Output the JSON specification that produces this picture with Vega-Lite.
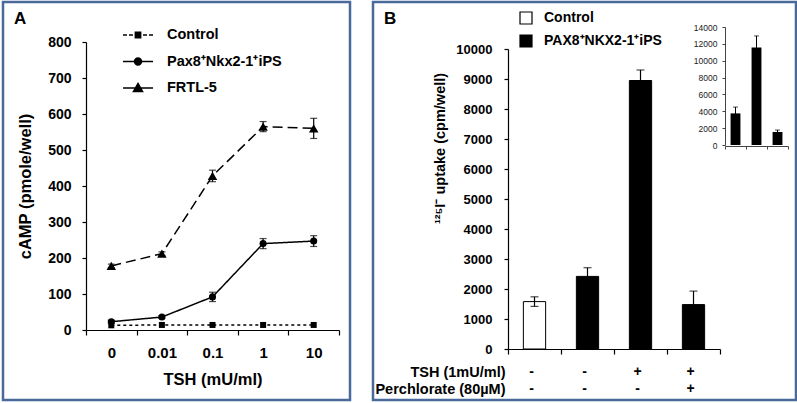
{
  "$schema": "https://vega.github.io/schema/vega-lite/v6.json",
  "padding": {"left": 1, "top": 0, "right": 0, "bottom": 0},
  "background": "white",
  "spacing": 19,
  "config": {
    "font": "Liberation Sans",
    "view": {"stroke": "#4a6a9c", "strokeWidth": 2.5},
    "axis": {"grid": false, "domainColor": "black", "tickColor": "black", "labelColor": "black", "titleColor": "black", "labelFont": "Liberation Sans", "titleFont": "Liberation Sans", "domainWidth": 1.2, "tickWidth": 1.2},
    "title": {"font": "Liberation Sans", "color": "black"}
  },
  "resolve": {"scale": {"shape": "independent", "fill": "independent"}, "legend": {"shape": "independent", "fill": "independent"}},
  "hconcat": [
    {
      "width": 347,
      "height": 398,
      "title": {"text": "A", "anchor": "start", "frame": "group", "offset": -39, "dx": 11, "fontSize": 17, "fontWeight": "bold", "baseline": "alphabetic"},
      "data": {"values": [
        {"tsh": "0", "s": "Control", "v": 13, "lo": 13, "hi": 13},
        {"tsh": "0.01", "s": "Control", "v": 14, "lo": 14, "hi": 14},
        {"tsh": "0.1", "s": "Control", "v": 14, "lo": 14, "hi": 14},
        {"tsh": "1", "s": "Control", "v": 14, "lo": 14, "hi": 14},
        {"tsh": "10", "s": "Control", "v": 14, "lo": 14, "hi": 14},
        {"tsh": "0", "s": "Pax8⁺Nkx2-1⁺iPS", "v": 23, "lo": 19, "hi": 27},
        {"tsh": "0.01", "s": "Pax8⁺Nkx2-1⁺iPS", "v": 36, "lo": 32, "hi": 40},
        {"tsh": "0.1", "s": "Pax8⁺Nkx2-1⁺iPS", "v": 92, "lo": 79, "hi": 105},
        {"tsh": "1", "s": "Pax8⁺Nkx2-1⁺iPS", "v": 240, "lo": 226, "hi": 254},
        {"tsh": "10", "s": "Pax8⁺Nkx2-1⁺iPS", "v": 247, "lo": 232, "hi": 262},
        {"tsh": "0", "s": "FRTL-5", "v": 178, "lo": 173, "hi": 183},
        {"tsh": "0.01", "s": "FRTL-5", "v": 212, "lo": 207, "hi": 217},
        {"tsh": "0.1", "s": "FRTL-5", "v": 428, "lo": 412, "hi": 444},
        {"tsh": "1", "s": "FRTL-5", "v": 565, "lo": 551, "hi": 579},
        {"tsh": "10", "s": "FRTL-5", "v": 560, "lo": 532, "hi": 588}
      ]},
      "encoding": {
        "x": {"field": "tsh", "type": "ordinal",
          "scale": {"type": "band", "domain": ["0", "0.01", "0.1", "1", "10"], "range": [83, 336], "paddingInner": 0, "paddingOuter": 0},
          "axis": {"orient": "bottom", "offset": -70, "tickBand": "extent", "tickSize": 5, "labelAngle": 0, "labelPadding": 10, "labelFontSize": 15, "labelFontWeight": "bold", "title": "TSH (mU/ml)", "titleFontSize": 16.5, "titleFontWeight": "bold", "titlePadding": 11}
        },
        "y": {"field": "v", "type": "quantitative", "title": "cAMP (pmole/well)",
          "scale": {"domain": [0, 800], "range": [328, 40], "nice": false},
          "axis": {"orient": "left", "offset": -83, "values": [0, 100, 200, 300, 400, 500, 600, 700, 800], "tickSize": 4, "labelPadding": 11, "labelFontSize": 14, "labelFontWeight": "bold", "titleFontSize": 16.5, "titleFontWeight": "bold", "titlePadding": 14}
        }
      },
      "layer": [
        {
          "mark": {"type": "line", "color": "black", "strokeWidth": 1.5},
          "encoding": {
            "strokeDash": {"field": "s", "type": "nominal", "scale": {"domain": ["Control", "Pax8⁺Nkx2-1⁺iPS", "FRTL-5"], "range": [[3, 3], [1, 0], [10, 5]]}, "legend": null}
          }
        },
        {
          "transform": [{"filter": "datum.hi > datum.lo"}],
          "mark": {"type": "rule", "color": "black", "strokeWidth": 1.2},
          "encoding": {
            "y": {"field": "lo", "type": "quantitative", "title": "cAMP (pmole/well)"},
            "y2": {"field": "hi"}
          }
        },
        {
          "transform": [{"filter": "datum.hi > datum.lo"}],
          "mark": {"type": "tick", "color": "black", "size": 7, "thickness": 1.2},
          "encoding": {
            "y": {"field": "hi", "type": "quantitative", "title": "cAMP (pmole/well)"}
          }
        },
        {
          "transform": [{"filter": "datum.hi > datum.lo"}],
          "mark": {"type": "tick", "color": "black", "size": 7, "thickness": 1.2},
          "encoding": {
            "y": {"field": "lo", "type": "quantitative", "title": "cAMP (pmole/well)"}
          }
        },
        {
          "transform": [{"filter": "datum.s == 'Control'"}],
          "mark": {"type": "point", "shape": "square", "size": 36, "filled": true, "color": "black", "opacity": 1}
        },
        {
          "transform": [{"filter": "datum.s == 'Pax8⁺Nkx2-1⁺iPS'"}],
          "mark": {"type": "point", "shape": "circle", "size": 50, "filled": true, "color": "black", "opacity": 1}
        },
        {
          "transform": [{"filter": "datum.s == 'FRTL-5'"}],
          "mark": {"type": "point", "shape": "triangle-up", "size": 90, "filled": true, "color": "black", "opacity": 1}
        },
        {
          "mark": {"type": "point", "filled": false, "color": "black", "strokeWidth": 1.5, "size": 576, "opacity": 0},
          "encoding": {
            "shape": {"field": "s", "type": "nominal",
              "scale": {"domain": ["Control", "Pax8⁺Nkx2-1⁺iPS", "FRTL-5"], "range": [
                "M-1.25,0H-0.92M-0.75,0H-0.42M0.42,0H0.75M0.92,0H1.25M-0.22,-0.22H0.22V0.22H-0.22ZM-0.22,-0.11H0.22M-0.22,0H0.22M-0.22,0.11H0.22",
                "M-1.25,0H1.25M0.29,0A0.29,0.29,0,1,1,-0.29,0A0.29,0.29,0,1,1,0.29,0ZM0.16,0A0.16,0.16,0,1,1,-0.16,0A0.16,0.16,0,1,1,0.16,0ZM-0.06,-0.06H0.06V0.06H-0.06Z",
                "M-1.25,0H1.25M0,-0.38L0.38,0.3L-0.38,0.3ZM-0.07,-0.22H0.07M-0.13,-0.11H0.13M-0.2,0H0.2M-0.26,0.1H0.26M-0.32,0.2H0.32"
              ]},
              "legend": {"orient": "none", "legendX": 122, "legendY": 20, "title": null, "padding": 0, "symbolSize": 576, "symbolOpacity": 1, "symbolStrokeColor": "black", "symbolStrokeWidth": 1.5, "rowPadding": 6.5, "labelOffset": 16, "labelFontSize": 14.5, "labelFontWeight": "bold", "labelColor": "black", "labelFont": "Liberation Sans"}
            }
          }
        }
      ]
    },
    {
      "width": 423,
      "height": 398,
      "title": {"text": "B", "anchor": "start", "frame": "group", "offset": -39, "dx": 11, "fontSize": 17, "fontWeight": "bold", "baseline": "alphabetic"},
      "layer": [
        {
          "data": {"name": "main", "values": [
            {"cond": "1", "group": "Control", "v": 1580, "lo": 1420, "hi": 1740},
            {"cond": "2", "group": "PAX8⁺NKX2-1⁺iPS", "v": 2420, "lo": 2130, "hi": 2710},
            {"cond": "3", "group": "PAX8⁺NKX2-1⁺iPS", "v": 8950, "lo": 8600, "hi": 9300},
            {"cond": "4", "group": "PAX8⁺NKX2-1⁺iPS", "v": 1480, "lo": 1030, "hi": 1930}
          ]},
          "mark": {"type": "bar", "width": {"band": 0.42}, "stroke": "black", "strokeWidth": 1},
          "encoding": {
            "x": {"field": "cond", "type": "ordinal",
              "scale": {"type": "band", "domain": ["1", "2", "3", "4"], "range": [135, 347], "paddingInner": 0, "paddingOuter": 0},
              "axis": {"orient": "bottom", "offset": -51, "tickBand": "extent", "tickSize": 5, "labels": false, "title": null}
            },
            "y": {"field": "v", "type": "quantitative",
              "scale": {"domain": [0, 10000], "range": [347, 47], "nice": false},
              "axis": {"orient": "left", "offset": -135, "values": [0, 1000, 2000, 3000, 4000, 5000, 6000, 7000, 8000, 9000, 10000], "format": "d", "tickSize": 4, "labelPadding": 12, "labelFontSize": 13, "labelFontWeight": "bold", "title": "¹²⁵I⁻ uptake (cpm/well)", "titleFontSize": 14.5, "titleFontWeight": "bold", "titleX": -68, "titleY": 146, "titleBaseline": "middle", "titleAngle": -90, "titleAlign": "center"}
            },
            "fill": {"field": "group", "type": "nominal",
              "scale": {"domain": ["Control", "PAX8⁺NKX2-1⁺iPS"], "range": ["white", "black"]},
              "legend": {"orient": "none", "legendX": 146, "legendY": 9, "title": null, "padding": 0, "symbolType": "square", "symbolSize": 144, "symbolStrokeColor": "black", "symbolStrokeWidth": 1.2, "symbolOpacity": 1, "rowPadding": 5, "labelOffset": 11, "labelFontSize": 14, "labelFontWeight": "bold", "labelColor": "black", "labelFont": "Liberation Sans"}
            }
          }
        },
        {
          "data": {"name": "main"},
          "mark": {"type": "rule", "color": "black", "strokeWidth": 1.2},
          "encoding": {
            "x": {"field": "cond", "type": "ordinal", "scale": {"type": "band", "domain": ["1", "2", "3", "4"], "range": [135, 347], "paddingInner": 0, "paddingOuter": 0}, "axis": null},
            "y": {"field": "lo", "type": "quantitative", "scale": {"domain": [0, 10000], "range": [347, 47], "nice": false}, "axis": null},
            "y2": {"field": "hi"}
          }
        },
        {
          "data": {"name": "main"},
          "mark": {"type": "tick", "color": "black", "size": 8, "thickness": 1.2},
          "encoding": {
            "x": {"field": "cond", "type": "ordinal", "scale": {"type": "band", "domain": ["1", "2", "3", "4"], "range": [135, 347], "paddingInner": 0, "paddingOuter": 0}, "axis": null},
            "y": {"field": "hi", "type": "quantitative", "scale": {"domain": [0, 10000], "range": [347, 47], "nice": false}, "axis": null}
          }
        },
        {
          "data": {"name": "main"},
          "mark": {"type": "tick", "color": "black", "size": 8, "thickness": 1.2},
          "encoding": {
            "x": {"field": "cond", "type": "ordinal", "scale": {"type": "band", "domain": ["1", "2", "3", "4"], "range": [135, 347], "paddingInner": 0, "paddingOuter": 0}, "axis": null},
            "y": {"field": "lo", "type": "quantitative", "scale": {"domain": [0, 10000], "range": [347, 47], "nice": false}, "axis": null}
          }
        },
        {
          "data": {"values": [
            {"cond": "1", "row": "TSH (1mU/ml)", "sym": "-"},
            {"cond": "2", "row": "TSH (1mU/ml)", "sym": "-"},
            {"cond": "3", "row": "TSH (1mU/ml)", "sym": "+"},
            {"cond": "4", "row": "TSH (1mU/ml)", "sym": "+"},
            {"cond": "1", "row": "Perchlorate (80µM)", "sym": "-"},
            {"cond": "2", "row": "Perchlorate (80µM)", "sym": "-"},
            {"cond": "3", "row": "Perchlorate (80µM)", "sym": "-"},
            {"cond": "4", "row": "Perchlorate (80µM)", "sym": "+"}
          ]},
          "mark": {"type": "text", "color": "black", "fontSize": 14, "fontWeight": "bold", "baseline": "middle", "dx": -3},
          "encoding": {
            "x": {"field": "cond", "type": "ordinal", "scale": {"type": "band", "domain": ["1", "2", "3", "4"], "range": [135, 347], "paddingInner": 0, "paddingOuter": 0}, "axis": null},
            "y": {"field": "row", "type": "nominal", "scale": {"type": "point", "domain": ["TSH (1mU/ml)", "Perchlorate (80µM)"], "range": [370, 387], "padding": 0},
              "axis": {"orient": "left", "offset": -135, "domain": false, "ticks": false, "labelPadding": 3, "labelFontSize": 14.5, "labelFontWeight": "bold", "title": null}
            },
            "text": {"field": "sym"}
          }
        },
        {
          "data": {"name": "inset", "values": [
            {"k": "a", "v": 3750, "lo": 3000, "hi": 4500},
            {"k": "b", "v": 11560, "lo": 10180, "hi": 12940},
            {"k": "c", "v": 1540, "lo": 1305, "hi": 1775}
          ]},
          "mark": {"type": "bar", "width": {"band": 0.47}, "color": "black"},
          "encoding": {
            "x": {"field": "k", "type": "ordinal",
              "scale": {"type": "band", "domain": ["a", "b", "c"], "range": [352, 415], "paddingInner": 0, "paddingOuter": 0},
              "axis": {"orient": "bottom", "offset": -254, "tickBand": "extent", "tickSize": 3, "labels": false, "title": null, "domainColor": "#444", "tickColor": "#444", "domainWidth": 1, "tickWidth": 1}
            },
            "y": {"field": "v", "type": "quantitative",
              "scale": {"domain": [0, 14000], "range": [143, 25], "nice": false},
              "axis": {"orient": "left", "offset": -352, "values": [0, 2000, 4000, 6000, 8000, 10000, 12000, 14000], "format": "d", "tickSize": 3, "labelPadding": 5, "labelFontSize": 8.5, "labelColor": "#222", "title": null, "domainColor": "#444", "tickColor": "#444", "domainWidth": 1, "tickWidth": 1}
            }
          }
        },
        {
          "data": {"name": "inset"},
          "mark": {"type": "rule", "color": "black", "strokeWidth": 1},
          "encoding": {
            "x": {"field": "k", "type": "ordinal", "scale": {"type": "band", "domain": ["a", "b", "c"], "range": [352, 415], "paddingInner": 0, "paddingOuter": 0}, "axis": null},
            "y": {"field": "lo", "type": "quantitative", "scale": {"domain": [0, 14000], "range": [143, 25], "nice": false}, "axis": null},
            "y2": {"field": "hi"}
          }
        },
        {
          "data": {"name": "inset"},
          "mark": {"type": "tick", "color": "black", "size": 5, "thickness": 1},
          "encoding": {
            "x": {"field": "k", "type": "ordinal", "scale": {"type": "band", "domain": ["a", "b", "c"], "range": [352, 415], "paddingInner": 0, "paddingOuter": 0}, "axis": null},
            "y": {"field": "hi", "type": "quantitative", "scale": {"domain": [0, 14000], "range": [143, 25], "nice": false}, "axis": null}
          }
        }
      ],
      "resolve": {"scale": {"x": "independent", "y": "independent"}, "axis": {"x": "independent", "y": "independent"}}
    }
  ]
}
